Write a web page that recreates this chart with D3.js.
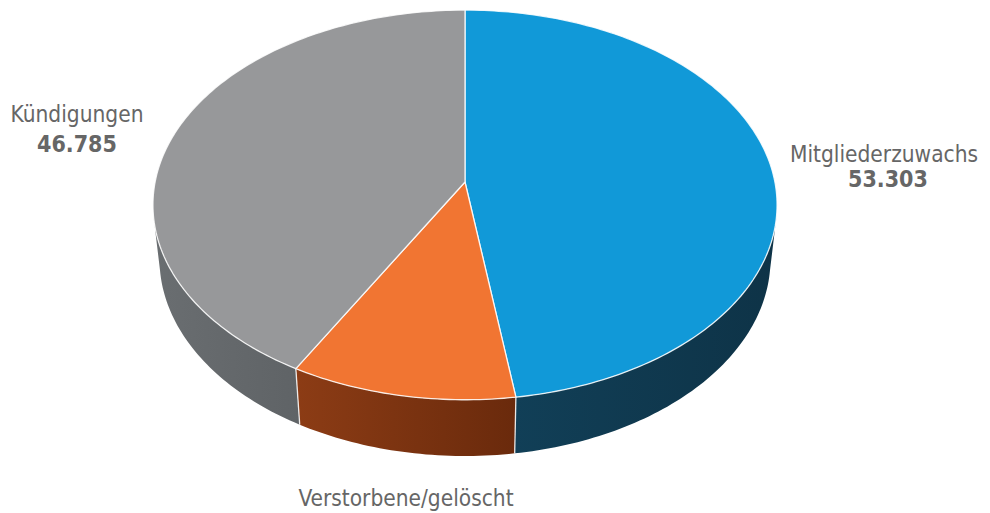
<!DOCTYPE html>
<html>
<head>
<meta charset="utf-8">
<script src="https://cdn.jsdelivr.net/npm/d3@7"></script>
<style>
  html, body { margin: 0; padding: 0; background: #fff; }
  svg { display: block; }
  text { font-family: "DejaVu Sans Condensed", "DejaVu Sans", sans-serif; fill: #666; }
</style>
</head>
<body>
<svg id="chart" width="990" height="513"></svg>
<script>
// Member movement, drawn as a tilted 3D pie
const categories = ["Mitgliederzuwachs", "Verstorbene/gelöscht", "Kündigungen"];
const values = [53303, 11700, 46785];
const valueLabels = ["53.303", "11.700", "46.785"];
const topColors = ["#1199d8", "#f17532", "#97989a"];
const sideColorsLeft = ["#113f57", "#8c3c15", "#6a6e71"];
const sideColorsRight = ["#0e3347", "#6a2a0c", "#5f6366"];

const W = 990, H = 513;
const svg = d3.select("#chart");
const defs = svg.append("defs");

// Camera: a unit-radius disc seen from above at angle phi with perspective
const view = {
  cx: 465, cy: 182,          // screen position of the disc centre (top face)
  dist: 6.67,                // camera distance in disc radii
  phi: Math.asin(0.62),      // downward tilt
  focal: 2067,
  depth: 0.228               // slab thickness in disc radii
};

function project(theta, r, yUp) {
  const X = r * Math.sin(theta);
  const Z = -r * Math.cos(theta);
  const s = Math.sin(view.phi), c = Math.cos(view.phi);
  const d = view.dist - yUp * s - Z * c;
  return [view.cx + view.focal * X / d, view.cy - view.focal * (yUp * c - Z * s) / d];
}

const pie = d3.pie().sort(null).value(d => d)(values);
const arcs = pie.map((p, i) => ({ ...p, i }));

function arcPoints(a0, a1, yUp) {
  const pts = [];
  const steps = Math.max(2, Math.ceil(Math.abs(a1 - a0) / (Math.PI / 180)));
  for (let k = 0; k <= steps; k++) {
    pts.push(project(a0 + (a1 - a0) * k / steps, 1, yUp));
  }
  return pts;
}

const line = d3.line();

// Outer wall faces the viewer where cos(theta) < -1/(dist*cos(phi))
const cLimit = Math.acos(-1 / (view.dist * Math.cos(view.phi)));
const visA0 = cLimit, visA1 = 2 * Math.PI - cLimit;

const gWalls = svg.append("g");
arcs.forEach(a => {
  const a0 = Math.max(a.startAngle, visA0 - 0.02);
  const a1 = Math.min(a.endAngle, visA1 + 0.02);
  if (a1 <= a0) return;
  const topPts = arcPoints(a0, a1, 0);
  const botPts = arcPoints(a1, a0, -view.depth);
  const xs = topPts.concat(botPts).map(p => p[0]);
  const gid = "wall" + a.i;
  const grad = defs.append("linearGradient")
    .attr("id", gid).attr("gradientUnits", "userSpaceOnUse")
    .attr("x1", d3.min(xs)).attr("x2", d3.max(xs)).attr("y1", 0).attr("y2", 0);
  grad.append("stop").attr("offset", 0).attr("stop-color", sideColorsLeft[a.i]);
  grad.append("stop").attr("offset", 1).attr("stop-color", sideColorsRight[a.i]);
  gWalls.append("path")
    .attr("d", line(topPts.concat(botPts)) + "Z")
    .attr("fill", `url(#${gid})`);
});

// Vertical seams between slices on the visible wall
arcs.forEach(a => {
  const t = a.startAngle;
  if (t > visA0 && t < visA1) {
    const p0 = project(t, 1, 0), p1 = project(t, 1, -view.depth);
    gWalls.append("line")
      .attr("x1", p0[0]).attr("y1", p0[1]).attr("x2", p1[0]).attr("y2", p1[1])
      .attr("stroke", "#fff").attr("stroke-width", 1.3).attr("stroke-opacity", 0.85);
  }
});

// Top faces
const gTop = svg.append("g");
const centre = project(0, 0, 0);
arcs.forEach(a => {
  const pts = [centre].concat(arcPoints(a.startAngle, a.endAngle, 0));
  gTop.append("path")
    .attr("d", line(pts) + "Z")
    .attr("fill", topColors[a.i])
    .attr("stroke", "#fff")
    .attr("stroke-width", 1.3)
    .attr("stroke-opacity", 0.85)
    .attr("stroke-linejoin", "round");
});

// Labels (name above, bold value below; a value is only drawn if it fits in the canvas)
const labelPos = [
  { x: 884, y: 162, vx: 888, vy: 187 },
  { x: 406, y: 506, vx: 406, vy: 536 },
  { x: 77,  y: 122, vx: 77,  vy: 152 }
];
const gLab = svg.append("g");
categories.forEach((name, i) => {
  const lp = labelPos[i];
  gLab.append("text")
    .attr("x", lp.x).attr("y", lp.y)
    .attr("text-anchor", "middle")
    .attr("font-size", 22.5)
    .text(name);
  if (lp.vy < H) {
    gLab.append("text")
      .attr("x", lp.vx).attr("y", lp.vy)
      .attr("text-anchor", "middle")
      .attr("font-size", 23)
      .attr("font-weight", "bold")
      .text(valueLabels[i]);
  }
});
</script>
</body>
</html>
